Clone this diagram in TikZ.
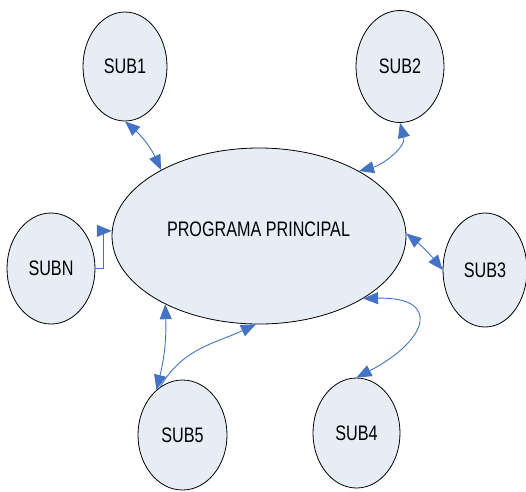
\documentclass[tikz,border=0pt]{standalone}
\usepackage{fontspec}
\setmainfont{Liberation Sans}
\usetikzlibrary{arrows.meta,shapes.geometric,positioning}
\definecolor{bubblefill}{HTML}{E6EDF7}
\definecolor{linkblue}{HTML}{4472C4}

\begin{document}
\begin{tikzpicture}[x=1pt,y=1pt,
    bubble/.style={ellipse,draw=black,line width=0.8pt,fill=bubblefill,inner sep=0pt,
      font=\fontsize{21}{21}\selectfont},
    sub/.style={bubble,minimum width=87pt,minimum height=110pt},
    link/.style={draw=linkblue,line width=0.9pt,{Triangle[length=15pt,width=12pt]}-{Triangle[length=15pt,width=12pt]}},
    onelink/.style={draw=linkblue,line width=0.9pt,-{Triangle[length=15pt,width=12pt]}}]
    \useasboundingbox (0,0) rectangle (526,-491);

    % Main program
    \node[bubble,minimum width=294pt,minimum height=176pt] (main) at (259,-236) {};
    \node[font=\fontsize{21}{21}\selectfont] (maintext) at (258.5,-229.5) {\scalebox{0.77}[1]{PROGRAMA PRINCIPAL}};

    % Subprograms
    \node[sub,minimum width=84pt,minimum height=109pt] (sub1) at (125,-66.5) {\scalebox{0.77}[1]{SUB1}};
    \node[sub,minimum width=88pt,minimum height=112pt] (sub2) at (400,-66.5) {\scalebox{0.77}[1]{SUB2}};
    \node[sub,minimum width=88pt,minimum height=111pt] (subn) at (51,-268.5) {\scalebox{0.77}[1]{SUBN}};
    \node[sub,minimum width=84pt,minimum height=114pt] (sub3) at (485,-270) {\scalebox{0.77}[1]{SUB3}};
    \node[sub,minimum width=89pt] (sub5) at (182.5,-435) {\scalebox{0.77}[1]{SUB5}};
    \node[sub] (sub4) at (356.5,-433) {\scalebox{0.77}[1]{SUB4}};

    % Calls
    \draw[link] (sub1.south) to[bend left=12] (main.146);
    \draw[link] (sub2.south) to[out=-75,in=15] (main.33);
    \draw[onelink] (subn.east) -- ++(8,0) |- (main.178);
    \draw[link] (main.1) to[bend left=6] (sub3.west);
    \draw[link] (main.-31) .. controls +(78,2) and +(73,38) .. (sub4.north);
    \draw[link] (sub5.120) to[bend right=8] (main.216);
    \draw[onelink] (sub5.115) to[out=60,in=205] (main.268);
\end{tikzpicture}
\end{document}
